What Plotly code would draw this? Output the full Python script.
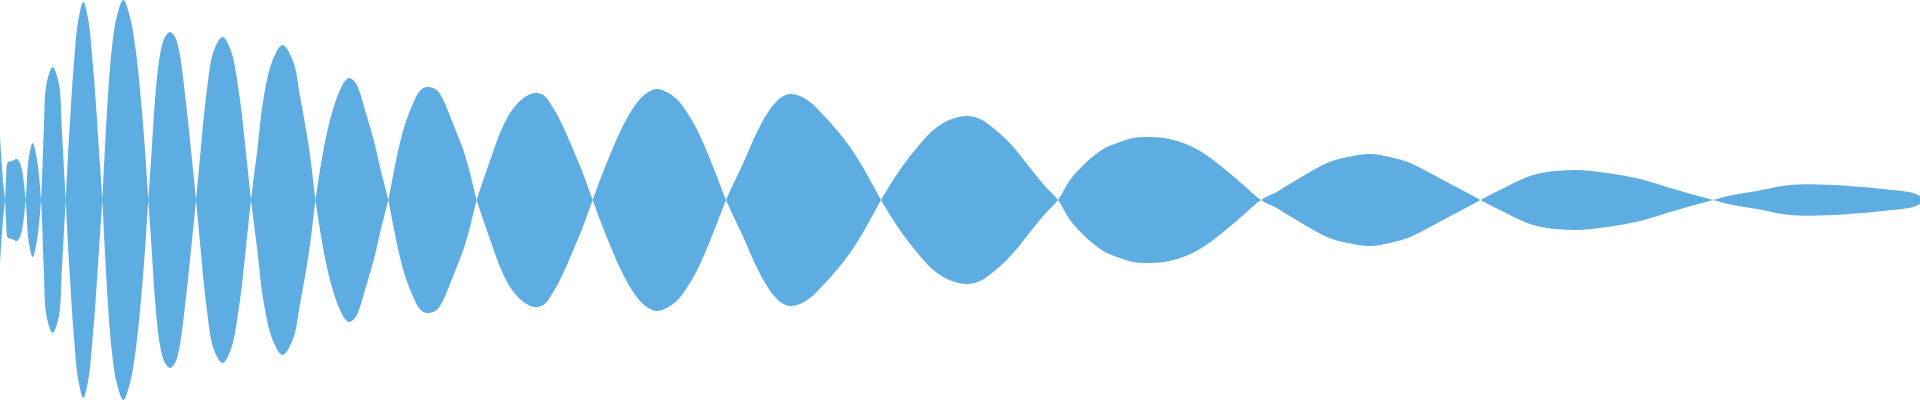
import plotly.graph_objects as go

# forma de onda: tiempo (ms) y amplitud (escala +-200)
tiempo = [
    0, 1.3, 3.5, 5,
    6, 8, 12, 16.5, 19.5, 22, 25.7,
    28.5, 32.7, 37, 41,
    43.7, 46.7, 52.7, 58.7, 62, 65.7,
    68, 71, 74.3, 78.3, 83.3, 88.3, 92.3, 96, 99.3, 102.3,
    104.8, 107.7, 111.7, 116.7, 123.3, 130, 135.7, 141, 145, 148.3,
    151.7, 155, 160, 165, 170, 175, 179, 185.7, 191, 196,
    200.7, 205.7, 214, 222.7, 230.7, 240, 245.7, 251,
    257.3, 263.3, 272.7, 282.5, 292.7, 300.7, 309.3, 315.5,
    320, 325, 330, 335, 340, 345, 349, 355, 360, 365, 370, 375, 380, 385, 388.3,
    393.3, 398.3, 403.3, 408.3, 413.3, 418.3, 423.3, 428.3, 436.7, 443.3, 450, 456.7, 463.3, 470, 476.7,
    483.3, 491.7, 500, 510, 520, 528.3, 535, 543.3, 553.3, 563.3, 573.3, 581.7, 588.3, 592.7,
    600, 610, 620, 630, 640, 648.3, 656.7, 666.7, 676.7, 686.7, 696.7, 706.7, 716.7, 726,
    733.3, 743.3, 753.3, 763.3, 773.3, 781.7, 790, 800, 810, 823.3, 836.7, 850, 863.3, 873.3, 881,
    890, 903.3, 916.7, 930, 943.3, 955, 966.7, 980, 993.3, 1006.7, 1020, 1033.3, 1046.7, 1058,
    1070, 1086.7, 1103.3, 1120, 1133.3, 1146.7, 1163.3, 1183.3, 1203.3, 1223.3, 1243.3, 1261,
    1276.7, 1293, 1310, 1327, 1343, 1370, 1390, 1410, 1443, 1462, 1480.5,
    1500, 1533, 1573, 1607, 1640, 1677, 1713.3,
    1733, 1757, 1790, 1833, 1883, 1913, 1920,
]
amplitud = [
    64, 43, 14, 0,
    -20, -38, -39, -41, -38, -30, 0,
    40, 57, 40, 0,
    -67, -117, -133, -117, -67, 0,
    45, 95, 142, 180, 198, 180, 142, 95, 45, 0,
    -50, -100, -150, -183, -200, -183, -150, -100, -50, 0,
    50, 100, 145, 163, 168, 163, 150, 100, 50, 0,
    -50, -100, -150, -163, -150, -100, -50, 0,
    50, 100, 140, 155, 140, 100, 50, 0,
    -30, -58, -80, -97, -110, -119, -122, -118, -107, -90, -73, -55, -33, -13, 0,
    26, 50, 70, 85, 97, 107, 112, 113, 110, 100, 84, 67, 50, 27, 0,
    -20, -44, -67, -87, -99, -105, -107, -105, -92, -73, -50, -30, -12, 0,
    20, 45, 68, 87, 101, 108, 111, 108, 101, 88, 71, 49, 24, 0,
    -16, -37, -60, -80, -95, -103, -106, -104, -98, -85, -70, -53, -32, -14, 0,
    15, 35, 52, 67, 77, 82, 84, 81, 72, 60, 45, 28, 12, 0,
    -20, -38, -51, -58, -62, -63, -62, -57, -47, -32, -15, 0,
    8, 18, 28, 37, 42, 46, 43, 37, 20, 10, 0,
    -10, -25, -30, -27, -21, -10, 0,
    5, 9, 15, 15, 11, 7, 4,
]
espejo = [-a for a in amplitud]

COLOR = "#5DADE2"
linea = dict(width=0, shape="spline", simplify=False)

fig = go.Figure()
fig.add_trace(go.Scatter(x=tiempo, y=espejo, mode="lines", line=linea, hoverinfo="skip"))
fig.add_trace(go.Scatter(x=tiempo, y=amplitud, mode="lines", fill="tonexty",
                         fillcolor=COLOR, line=linea, hoverinfo="skip"))

fig.update_layout(
    width=1920, height=400,
    margin=dict(l=0, r=0, t=0, b=0),
    paper_bgcolor="white", plot_bgcolor="white",
    showlegend=False,
    xaxis=dict(range=[0, 1920], visible=False, fixedrange=True),
    yaxis=dict(range=[-200, 200], visible=False, fixedrange=True),
)

fig.write_html("out.html", config={"displayModeBar": False},
               post_script="document.body.style.margin='0';")
